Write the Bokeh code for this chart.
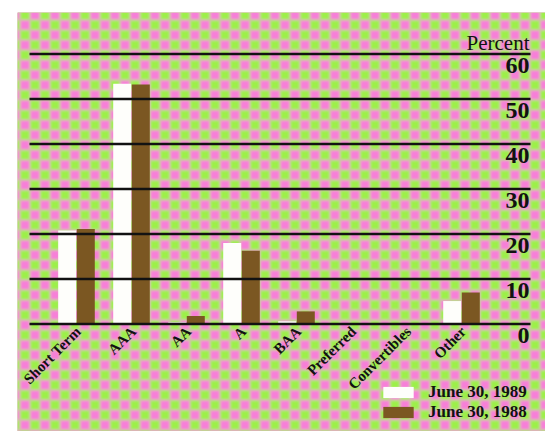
import base64
import math

from bokeh.plotting import figure
from bokeh.models import (Range1d, BoxAnnotation, ImageURLTexture, Legend,
                          LegendItem, ColumnDataSource)
from bokeh.core.properties import value
from bokeh.embed import file_html
from bokeh.resources import INLINE

# Portfolio composition by quality rating, percent of holdings
categories = ["Short Term", "AAA", "AA", "A", "BAA", "Preferred", "Convertibles", "Other"]
june_1989 = [20.8, 53.4, 0.4, 18.0, 0.6, 0.0, 0.0, 5.1]
june_1988 = [21.1, 53.2, 1.8, 16.3, 2.8, 0.0, 0.0, 7.0]
y_ticks = [0, 10, 20, 30, 40, 50, 60]
y_tick_labels = ["0", "10", "20", "30", "40", "50", "60"]
axis_title = "Percent"
series_labels = ["June 30, 1989", "June 30, 1988"]

WHITE = "#fefefb"
BROWN = "#7b5722"
INK = "#121212"
SERIF = "Liberation Serif"

# Halftone backdrop tile: a softened pink/green checkerboard (seamless)
T = 20
CELL = T // 2
PINK = "#f77fd8"
GREEN = "#9cf04a"
pink_cells = []
for gx in range(-2, 4):
    for gy in range(-2, 4):
        if (gx + gy) % 2 == 0:
            pink_cells.append(f'<rect x="{gx * CELL}" y="{gy * CELL}" '
                              f'width="{CELL}" height="{CELL}" fill="{PINK}"/>')
tile_svg = (
    f'<svg xmlns="http://www.w3.org/2000/svg" width="{T}" height="{T}">'
    '<defs><filter id="soft"><feGaussianBlur stdDeviation="1.7"/></filter></defs>'
    '<g filter="url(#soft)">'
    f'<rect x="{-2 * CELL}" y="{-2 * CELL}" width="{6 * CELL}" height="{6 * CELL}" fill="{GREEN}"/>'
    + "".join(pink_cells) + '</g></svg>'
)
tile_url = "data:image/svg+xml;base64," + base64.b64encode(tile_svg.encode()).decode()
BASE = "#cbbba0"

# Screen geometry: categories sit 55 px apart, 4.5 px per percentage point
PX_X = 55.0
PX_Y = 4.5
frame_w, frame_h = 528, 419
x0 = -59 / PX_X
y0 = -107.5 / PX_Y

p = figure(width=545, height=431, output_backend="svg", toolbar_location=None,
           x_range=Range1d(x0, x0 + frame_w / PX_X),
           y_range=Range1d(y0, y0 + frame_h / PX_Y),
           x_axis_type=None, y_axis_type=None,
           min_border_left=17, min_border_top=12, min_border_right=0, min_border_bottom=0,
           border_fill_color="white", background_fill_color=BASE)
p.title.visible = False
p.outline_line_color = None
p.grid.visible = False

backdrop = BoxAnnotation(level="underlay", fill_color=BASE, fill_alpha=1.0, line_alpha=0,
                         hatch_extra={"halftone": ImageURLTexture(url=tile_url)},
                         hatch_pattern="halftone", hatch_alpha=1.0)
p.add_layout(backdrop)

idx = list(range(len(categories)))
bar_w = 18 / PX_X
off = 9.3 / PX_X
src = ColumnDataSource(dict(
    x89=[i - off for i in idx], x88=[i + off for i in idx],
    v89=june_1989, v88=june_1988))

r89 = p.vbar(x="x89", top="v89", bottom=0, width=bar_w, source=src,
             fill_color=WHITE, line_color=None)
r88 = p.vbar(x="x88", top="v88", bottom=0, width=bar_w, source=src,
             fill_color=BROWN, line_color=None)

# Horizontal rules drawn over the bars
rule_left = -47 / PX_X
rule_right = 454 / PX_X
p.segment(x0=rule_left, x1=rule_right, y0=y_ticks, y1=y_ticks,
          line_color=INK, line_width=2.4)

# Value labels hang just beneath their rules at the right end
label_x = 453 / PX_X
p.text(x=label_x, y=y_ticks, text=y_tick_labels, text_align="right",
       text_baseline="top", y_offset=4, text_font=value(SERIF),
       text_font_style="bold", text_font_size="24px", text_color=INK)
p.text(x=label_x, y=[y_ticks[-1]], text=[axis_title], text_align="right",
       text_baseline="alphabetic", y_offset=-11, text_font=value(SERIF),
       text_font_size="21px", text_color=INK)

# Slanted category names under each pair of bars
p.text(x=idx, y=0, text=categories, angle=math.pi / 4, text_align="right",
       text_baseline="middle", x_offset=2, y_offset=5, text_font=value(SERIF),
       text_font_style="bold", text_font_size="15px", text_color=INK)

legend = Legend(items=[LegendItem(label=series_labels[0], renderers=[r89]),
                       LegendItem(label=series_labels[1], renderers=[r88])],
                location=(362, 9), orientation="vertical",
                glyph_width=38, glyph_height=14, label_height=18, spacing=0,
                padding=0, margin=0, label_standoff=11,
                label_text_font=SERIF, label_text_font_style="bold",
                label_text_font_size="17px", label_text_color=INK,
                border_line_alpha=0, background_fill_alpha=0)
p.add_layout(legend)

open("out.html", "w").write(file_html(p, INLINE))
